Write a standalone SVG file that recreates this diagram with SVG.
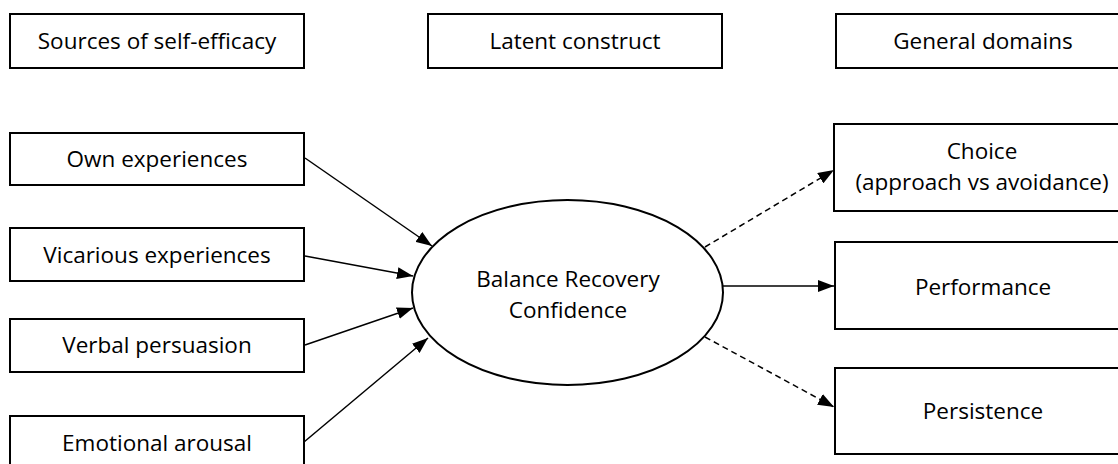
<svg xmlns="http://www.w3.org/2000/svg" width="1118" height="464" viewBox="0 0 1118 464">
<style>
.box{fill:#fff;stroke:#000;stroke-width:2}
.t{font-family:"Open Sans","Noto Sans",sans-serif;font-size:22.5px;fill:#000;text-anchor:middle}
.c{stroke:#000;stroke-width:1.5;fill:none}
.d{stroke-dasharray:6,4}
</style>
<defs>
<marker id="ah" viewBox="0 0 16 12" refX="16" refY="6" markerWidth="16" markerHeight="12" markerUnits="userSpaceOnUse" orient="auto">
<path d="M0,0 L16,6 L0,12 Z" fill="#000"/>
</marker>
</defs>
<rect width="1118" height="464" fill="#fff"/>
<g id="hdr-sources"><rect class="box" x="10" y="14" width="294" height="54"/><text class="t" x="157" y="49">Sources of self-efficacy</text></g>
<g id="hdr-latent"><rect class="box" x="428" y="14" width="294" height="54"/><text class="t" x="575" y="49">Latent construct</text></g>
<g id="hdr-domains"><rect class="box" x="836" y="14" width="294" height="54"/><text class="t" x="983" y="49">General domains</text></g>
<g id="own"><rect class="box" x="10" y="133" width="294" height="52"/><text class="t" x="157" y="167">Own experiences</text></g>
<g id="vicarious"><rect class="box" x="10" y="228" width="294" height="53"/><text class="t" x="157" y="263">Vicarious experiences</text></g>
<g id="verbal"><rect class="box" x="10" y="319" width="294" height="53"/><text class="t" x="157" y="353">Verbal persuasion</text></g>
<g id="emotional"><rect class="box" x="10" y="416" width="294" height="60"/><text class="t" x="157" y="451">Emotional arousal</text></g>
<g id="brc"><ellipse cx="567.5" cy="292.5" rx="155.5" ry="92.5" fill="#fff" stroke="#000" stroke-width="2"/><text class="t" x="568" y="287">Balance Recovery</text><text class="t" x="568" y="318">Confidence</text></g>
<g id="choice"><rect class="box" x="834" y="124" width="296" height="87"/><text class="t" x="982" y="159">Choice</text><text class="t" x="982" y="190">(approach vs avoidance)</text></g>
<g id="performance"><rect class="box" x="835" y="242" width="295" height="87"/><text class="t" x="983" y="295">Performance</text></g>
<g id="persistence"><rect class="box" x="835" y="368" width="295" height="86"/><text class="t" x="983" y="419">Persistence</text></g>
<g id="connectors">
<line class="c" x1="305" y1="158" x2="432" y2="246" marker-end="url(#ah)"/>
<line class="c" x1="305" y1="256" x2="413" y2="276" marker-end="url(#ah)"/>
<line class="c" x1="305" y1="345" x2="413" y2="308" marker-end="url(#ah)"/>
<line class="c" x1="304" y1="442" x2="428" y2="338" marker-end="url(#ah)"/>
<line class="c d" x1="705" y1="247" x2="834" y2="170" marker-end="url(#ah)"/>
<line class="c" x1="723" y1="286" x2="834" y2="286" marker-end="url(#ah)"/>
<line class="c d" x1="705" y1="337" x2="834" y2="407" marker-end="url(#ah)"/>
</g>
</svg>
